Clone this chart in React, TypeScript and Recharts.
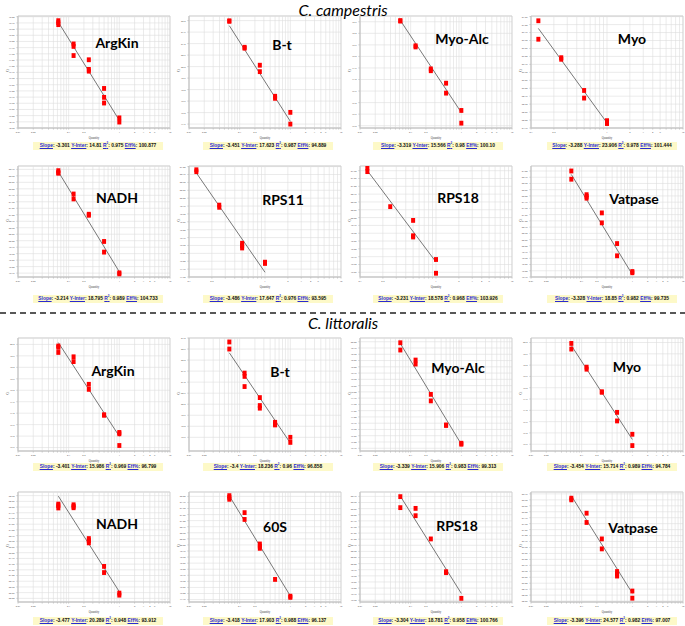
import React from 'react';
import { ScatterChart, Scatter, XAxis, YAxis, CartesianGrid, ReferenceArea, ReferenceLine } from 'recharts';

// quantities (2-fold dilution series)
const dil5 = [0.0625, 0.125, 0.25, 0.5, 1];
const dil4 = [0.125, 0.25, 0.5, 1];

// log axis grid ticks and which of them carry a label
const minorTicks = [0.01, 0.02, 0.03, 0.04, 0.05, 0.06, 0.07, 0.08, 0.09, 0.1, 0.2, 0.3, 0.4, 0.5, 0.6, 0.7, 0.8, 0.9, 1, 2, 3, 4, 5, 6, 7, 8, 9, 10];
const labelledTicks = [0.01, 0.02, 0.1, 0.2, 1, 2, 3, 4, 5, 10];

const sectionTitles = ['C. campestris', 'C. littoralis'];
const geneNames = ['ArgKin', 'B-t', 'Myo-Alc', 'Myo', 'NADH', 'RPS11', 'RPS18', 'Vatpase',
  'ArgKin', 'B-t', 'Myo-Alc', 'Myo', 'NADH', '60S', 'RPS18', 'Vatpase'];

// Ct replicates per dilution
const ctValues: number[][][] = [
  [[18.84, 18.76, 18.68], [17.9, 17.8, 17.43], [17.26, 16.87, 16.8], [16.1, 15.74, 15.51], [14.91, 14.74]],
  [[21.99, 21.97], [20.84, 20.8], [20.06, 19.78], [18.71, 18.62], [18.01, 17.5]],
  [[19.55, 19.53], [18.46, 18.41], [17.46, 17.38], [16.84, 16.41], [15.66, 15.11]],
  [[27.12, 26.54], [25.96, 25.91], [24.93, 24.69], [23.98, 23.93, 23.89]],
  [[22.7, 22.63, 22.6], [21.8, 21.61], [21.02, 20.98], [19.97, 19.56], [18.76, 18.72]],
  [[20.9, 20.84], [19.78, 19.71], [18.57, 18.49, 18.42], [17.97, 17.93]],
  [[21.59, 21.47], [20.35], [19.91, 19.42, 19.38], [18.66, 18.22]],
  [[23.0, 22.67], [22.05, 21.98, 21.91], [21.32, 20.92], [20.09, 19.6], [18.97, 18.92]],
  [[19.93, 19.87, 19.65], [19.46, 19.25], [18.26, 18.04], [16.93, 16.91], [16.16, 16.1, 15.59]],
  [[22.82, 22.5], [21.41, 21.26, 20.8], [20.3, 19.94, 19.82], [19.18, 19.11, 19.06], [18.5, 18.27]],
  [[19.96, 19.67], [19.27, 19.11], [17.9, 17.64], [16.68, 16.66], [15.95, 15.91]],
  [[19.96, 19.71], [18.91, 18.82], [17.82, 17.8], [16.91, 16.53], [15.94, 15.44]],
  [[24.13, 24.06, 23.96], [24.1, 24.03, 23.97], [22.62, 22.53, 22.43], [21.4, 21.13], [20.23, 20.14]],
  [[22.03, 21.96, 21.88], [21.33, 21.05], [20.04, 19.95, 19.86], [18.58], [17.89, 17.84]],
  [[22.74, 22.29], [22.26, 21.96], [21.01], [19.67, 19.63], [18.58]],
  [[28.57, 28.5], [27.94, 27.55], [26.86, 26.44], [25.49, 25.39, 25.3], [24.67, 24.37]],
];
const quantities = [dil5, dil5, dil5, dil4, dil5, dil4, dil4, dil5, dil5, dil5, dil5, dil5, dil5, dil5, dil5, dil5];
const xMins = [0.01, 0.01, 0.01, 0.1, 0.01, 0.1, 0.1, 0.01, 0.01, 0.01, 0.01, 0.01, 0.01, 0.01, 0.01, 0.01];

// fitted line Ct at lowest quantity and at quantity 1
const fitEnds = [[18.78, 14.81], [21.78, 17.62], [19.56, 15.57], [26.88, 23.91], [22.66, 18.8], [20.8, 17.65], [21.5, 18.58], [22.86, 18.85],
  [20.08, 15.99], [22.33, 18.24], [19.93, 15.91], [19.87, 15.71], [24.48, 20.29], [22.02, 17.9], [22.76, 18.78], [28.67, 24.58]];

const slopes = ['-3.301', '-3.451', '-3.319', '-3.288', '-3.214', '-3.486', '-3.231', '-3.328', '-3.401', '-3.4', '-3.339', '-3.454', '-3.477', '-3.418', '-3.304', '-3.396'];
const intercepts = ['14.81', '17.623', '15.566', '23.906', '18.795', '17.647', '18.578', '18.85', '15.986', '18.236', '15.906', '15.714', '20.289', '17.903', '18.781', '24.577'];
const r2s = ['0.975', '0.987', '0.98', '0.978', '0.989', '0.976', '0.968', '0.982', '0.969', '0.96', '0.983', '0.989', '0.948', '0.988', '0.958', '0.982'];
const effs = ['100.877', '94.889', '100.10', '101.444', '104.733', '93.595', '103.926', '99.735', '96.799', '96.858', '99.313', '94.784', '93.912', '96.137', '100.766', '97.007'];

// y axis: domain, and tick range [first, last, step, decimals]
const yDomains = [[14.5, 19.03], [17.33, 22.2], [14.9, 19.75], [23.75, 27.27], [18.6, 22.88], [17.5, 21.02], [18.1, 21.65], [18.75, 23.2],
  [15.35, 20.28], [17.88, 23.0], [15.64, 20.15], [15.2, 20.2], [19.84, 24.66], [17.65, 22.18], [18.43, 22.93], [24.21, 28.83]];
const yTickSpecs = [[14.5, 19, 0.25, 2], [17.5, 22, 0.5, 1], [15, 19.5, 0.5, 1], [23.75, 27.25, 0.25, 2], [18.75, 22.75, 0.25, 2], [17.5, 21, 0.25, 2], [18.25, 21.5, 0.25, 2], [18.75, 23, 0.25, 2],
  [15.5, 20, 0.5, 1], [18.5, 23, 0.5, 1], [15.75, 20, 0.25, 2], [15.5, 20, 0.5, 1], [20, 24.5, 0.25, 2], [17.75, 22, 0.25, 2], [18.5, 22.75, 0.25, 2], [24.25, 28.75, 0.25, 2]];

// layout
const rowPlot = [[16, 112], [166, 111], [338, 113], [492, 110]];
const colLeft = [18, 189, 360, 531];
const statsY = [146, 299, 467, 621];
const namePos = [[117, 43], [282, 45], [462, 39], [632, 39], [117, 198], [283, 200], [458, 198], [634, 199],
  [113, 371], [280, 372], [458, 368], [627, 367], [117, 524], [275, 527], [457, 526], [633, 528]];

const makeTicks = (spec: number[]) => {
  const out: number[] = [];
  const n = Math.round((spec[1] - spec[0]) / spec[2]);
  for (let i = 0; i <= n; i++) out.push(+(spec[0] + i * spec[2]).toFixed(3));
  return out;
};

const Square = (props: any) => (
  <rect x={props.cx - 2} y={props.cy - 2.4} width={4} height={4.8} fill="#ff0000" />
);

const Panel = ({ i }: { i: number }) => {
  const row = Math.floor(i / 4);
  const col = i % 4;
  const [top, h] = rowPlot[row];
  const q = quantities[i];
  const points: { q: number; ct: number }[] = [];
  ctValues[i].forEach((reps, k) => reps.forEach(ct => points.push({ q: q[k], ct })));
  const fit = [{ q: q[0], ct: fitEnds[i][0] }, { q: 1, ct: fitEnds[i][1] }];
  const xMin = xMins[i];
  const xt = minorTicks.filter(t => t >= xMin);
  const spec = yTickSpecs[i];
  const yt = makeTicks(spec);
  return (
    <div style={{ position: 'absolute', left: colLeft[col] - 18, top: top - 2 }}>
      <ScatterChart width={174} height={h + 18} margin={{ top: 2, right: 4, left: 2, bottom: 0 }}>
        <CartesianGrid stroke="#dedede" strokeWidth={0.6} vertical={false} />
        {xt.map(t => (
          <ReferenceLine key={t} x={t} stroke="#dedede" strokeWidth={0.6} ifOverflow="visible" />
        ))}
        <ReferenceArea x1={xMin} x2={10} y1={yDomains[i][0]} y2={yDomains[i][1]} fill="none" stroke="#c4c4c4" strokeWidth={0.7} ifOverflow="visible" />
        <XAxis type="number" dataKey="q" scale="log" domain={[xMin, 10]} allowDataOverflow ticks={xt} interval={0}
          tickFormatter={(v: number) => (labelledTicks.includes(v) ? String(v) : '')}
          tick={{ fontSize: 2.6, fill: '#444' }} tickSize={1.5} stroke="#c4c4c4" height={16}
          label={{ value: 'Quantity', position: 'insideBottom', offset: 5, fontSize: 3, fill: '#444' }} />
        <YAxis type="number" dataKey="ct" domain={yDomains[i]} allowDataOverflow ticks={yt} interval={0}
          tickFormatter={(v: number) => v.toFixed(spec[3])}
          tick={{ fontSize: 2.6, fill: '#444' }} tickSize={1.5} stroke="#c4c4c4" width={16}
          label={{ value: 'Ct', angle: -90, position: 'insideLeft', offset: 6, fontSize: 3, fill: '#444' }} />
        <Scatter data={fit} line={{ stroke: '#555', strokeWidth: 0.8 }} shape={() => <g />} isAnimationActive={false} />
        <Scatter data={points} shape={Square} isAnimationActive={false} />
      </ScatterChart>
    </div>
  );
};

const linkStyle: React.CSSProperties = { color: '#2a2ad0', textDecoration: 'underline' };

const Stats = ({ i }: { i: number }) => {
  const row = Math.floor(i / 4);
  const col = i % 4;
  return (
    <div style={{
      position: 'absolute', left: col * 170 + 33 + (col === 3 ? 4 : 0), top: statsY[row] - 4, width: 130, height: 8,
      background: '#fdf9c8', fontSize: 4.9, fontWeight: 700, lineHeight: '8px', textAlign: 'center', whiteSpace: 'nowrap',
      fontFamily: '"Liberation Sans", Arial, sans-serif', color: '#111',
    }}>
      <span style={linkStyle}>Slope</span>: {slopes[i]} <span style={linkStyle}>Y-Inter</span>: {intercepts[i]}{' '}
      <span style={linkStyle}>R<sup style={{ fontSize: 3, lineHeight: 0 }}>2</sup></span>: {r2s[i]}{' '}
      <span style={linkStyle}>Eff%</span>: {effs[i]}
    </div>
  );
};

export default function App() {
  return (
    <div style={{ position: 'absolute', left: 0, top: 0, width: 685, height: 626, background: '#fff', overflow: 'hidden' }}>
      {geneNames.map((_, i) => <Panel key={'p' + i} i={i} />)}
      {geneNames.map((_, i) => <Stats key={'s' + i} i={i} />)}
      {geneNames.map((n, i) => (
        <div key={'n' + i} style={{
          position: 'absolute', left: namePos[i][0] - 40, top: namePos[i][1] - 10, width: 80, height: 20, lineHeight: '20px',
          textAlign: 'center', fontFamily: 'Lato, "Open Sans", sans-serif', fontWeight: 700, fontSize: 14, color: '#000',
        }}>{n}</div>
      ))}
      <div style={{ position: 'absolute', left: 243, top: 0, width: 200, textAlign: 'center', fontFamily: 'Lato, sans-serif', fontStyle: 'italic', fontSize: 16, lineHeight: '20px' }}>{sectionTitles[0]}</div>
      <div style={{ position: 'absolute', left: 243, top: 313, width: 200, textAlign: 'center', fontFamily: 'Lato, sans-serif', fontStyle: 'italic', fontSize: 16, lineHeight: '20px' }}>{sectionTitles[1]}</div>
      <svg style={{ position: 'absolute', left: 0, top: 308 }} width={685} height={10}>
        <line x1={0} y1={5} x2={685} y2={5} stroke="#222" strokeWidth={1.6} strokeDasharray="6 4" />
      </svg>
    </div>
  );
}
